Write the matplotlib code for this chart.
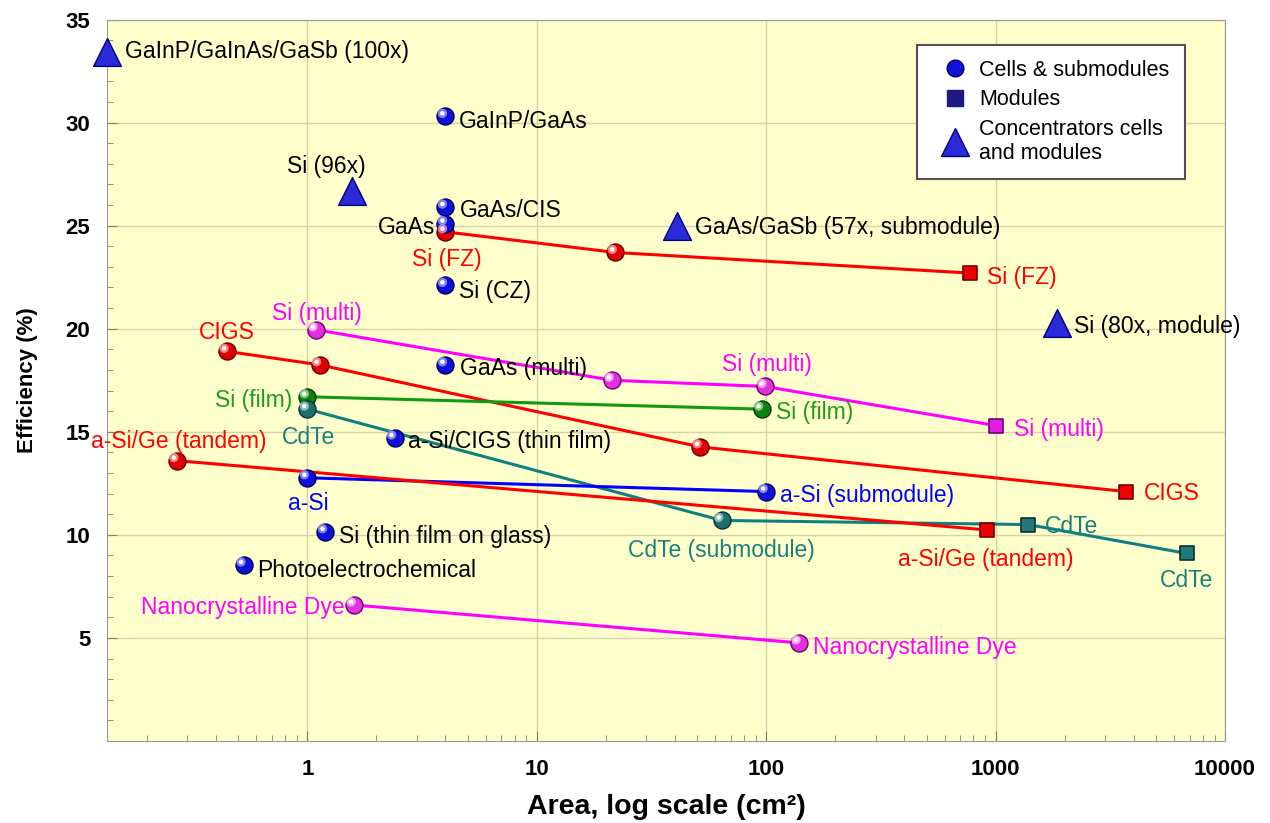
import matplotlib
matplotlib.use("Agg")
import matplotlib.pyplot as plt
from matplotlib.lines import Line2D
from matplotlib.transforms import offset_copy
from matplotlib.ticker import LogLocator, NullFormatter, MultipleLocator

plt.rcParams['font.family'] = ['Liberation Sans', 'DejaVu Sans']

# ---- data (area in cm2, efficiency in %) ----
# connected series: cells -> submodules -> modules
fz_x = [4.0, 22.0, 770.0]
fz_y = [24.7, 23.7, 22.7]
multi_x = [1.09, 21.3, 98.7, 1005.0]
multi_y = [19.95, 17.5, 17.2, 15.3]
cigs_x = [0.447, 1.13, 51.5, 3700.0]
cigs_y = [18.9, 18.25, 14.27, 12.1]
film_x = [1.0, 95.6]
film_y = [16.7, 16.1]
cdte_x = [1.0, 64.0, 1390.0, 6800.0]
cdte_y = [16.1, 10.7, 10.5, 9.1]
asi_x = [1.0, 100.0]
asi_y = [12.77, 12.1]
asige_x = [0.27, 914.0]
asige_y = [13.6, 10.24]
dye_x = [1.6, 139.0]
dye_y = [6.6, 4.76]

# single cells
cell_names = ['GaInP/GaAs', 'GaAs/CIS', 'GaAs', 'Si (CZ)', 'GaAs (multi)',
              'a-Si/CIGS (thin film)', 'Si (thin film on glass)', 'Photoelectrochemical']
cell_x = [4.0, 4.0, 4.0, 4.0, 4.0, 2.4, 1.2, 0.53]
cell_y = [30.3, 25.9, 25.1, 22.1, 18.25, 14.7, 10.15, 8.54]

# concentrators
conc_names = ['GaInP/GaInAs/GaSb (100x)', 'Si (96x)', 'GaAs/GaSb (57x, submodule)', 'Si (80x, module)']
conc_x = [0.134, 1.57, 41.0, 1850.0]
conc_y = [33.4, 26.7, 25.0, 20.3]

x_ticks = [1, 10, 100, 1000, 10000]
y_ticks = [5, 10, 15, 20, 25, 30, 35]

RED = '#ff0000'
MAG = '#ff00ff'
GRN = '#1f9a1f'
TEAL = '#1a7f7f'
BLUE = '#0000ff'

fig = plt.figure(figsize=(12.7, 8.23), dpi=100)
ax = fig.add_axes([0.0843, 0.0996, 0.8803, 0.8767])
ax.set_facecolor('#ffffcc')
ax.set_xscale('log')
ax.set_xlim(0.134, 10000)
ax.set_ylim(0, 35)


def sphere(x, y, color, dark, light, size=150):
    ax.scatter(x, y, s=size, color=color, edgecolors=dark, linewidths=1, zorder=5)
    tr = offset_copy(ax.transData, fig=fig, x=-2.2, y=2.2, units='points')
    ax.scatter(x, y, s=size * 0.3, color=light, edgecolors='none', transform=tr, zorder=6, alpha=0.8)
    ax.scatter(x, y, s=size * 0.07, color='white', edgecolors='none', transform=tr, zorder=7)


def square(x, y, color, dark):
    ax.scatter(x, y, s=110, marker='s', color=color, edgecolors=dark, linewidths=1.2, zorder=5)


def label(x, y, text, color, dx, dy, ha='left'):
    ax.annotate(text, (x, y), xytext=(dx, dy), textcoords='offset pixels',
                ha=ha, va='center', color=color, fontsize=16.5, zorder=8)


# lines
ax.plot(fz_x, fz_y, color=RED, lw=2.2, zorder=3)
ax.plot(multi_x, multi_y, color=MAG, lw=2.2, zorder=3)
ax.plot(cigs_x, cigs_y, color=RED, lw=2.2, zorder=3)
ax.plot(film_x, film_y, color='#119911', lw=2.2, zorder=3)
ax.plot(cdte_x, cdte_y, color='#0f8080', lw=2.2, zorder=3)
ax.plot(asi_x, asi_y, color=BLUE, lw=2.2, zorder=3)
ax.plot(asige_x, asige_y, color=RED, lw=2.2, zorder=3)
ax.plot(dye_x, dye_y, color=MAG, lw=2.2, zorder=3)

# markers
red_s = ('#e00000', '#600000', '#ffa0a0')
mag_s = ('#e030e0', '#700070', '#ffc0ff')
grn_s = ('#108010', '#004000', '#a0e0a0')
teal_s = ('#1f6f6f', '#0a3030', '#a0d0d0')
blue_s = ('#1010d8', '#000060', '#a0a0ff')

sphere(fz_x[:2], fz_y[:2], *red_s)
square(fz_x[2], fz_y[2], '#ee0000', '#700000')
sphere(multi_x[:3], multi_y[:3], *mag_s)
square(multi_x[3], multi_y[3], '#e020e0', '#700070')
sphere(cigs_x[:3], cigs_y[:3], *red_s)
square(cigs_x[3], cigs_y[3], '#ee0000', '#700000')
sphere(film_x, film_y, *grn_s)
sphere(cdte_x[:2], cdte_y[:2], *teal_s)
square(cdte_x[2:], cdte_y[2:], '#207878', '#0a3030')
sphere(asi_x, asi_y, *blue_s)
sphere(asige_x[0], asige_y[0], *red_s)
square(asige_x[1], asige_y[1], '#ee0000', '#700000')
sphere(dye_x, dye_y, *mag_s)
sphere(cell_x, cell_y, *blue_s)
ax.scatter(conc_x, conc_y, s=400, marker='^', color='#2a2ad8', edgecolors='#000080',
           linewidths=1, zorder=5, clip_on=False)

# labels
cell_off = [(13, -5, 'left'), (14, -3, 'left'), (-10, -4, 'right'), (14, -6, 'left'),
            (15, -4, 'left'), (13, -4, 'left'), (14, -5, 'left'), (13, -6, 'left')]
for n, x, y, (dx, dy, ha) in zip(cell_names, cell_x, cell_y, cell_off):
    label(x, y, n, 'black', dx, dy, ha)
conc_off = [(18, 1, 'left'), (-26, 24, 'center'), (18, -2, 'left'), (17, -4, 'left')]
for n, x, y, (dx, dy, ha) in zip(conc_names, conc_x, conc_y, conc_off):
    label(x, y, n, 'black', dx, dy, ha)

label(fz_x[0], fz_y[0], 'Si (FZ)', RED, 1, -28, 'center')
label(fz_x[2], fz_y[2], 'Si (FZ)', RED, 17, -4)
label(multi_x[0], multi_y[0], 'Si (multi)', MAG, 1, 16, 'center')
label(multi_x[2], multi_y[2], 'Si (multi)', MAG, 2, 22, 'center')
label(multi_x[3], multi_y[3], 'Si (multi)', MAG, 18, -4)
label(cigs_x[0], cigs_y[0], 'CIGS', RED, 0, 19, 'center')
label(cigs_x[3], cigs_y[3], 'CIGS', RED, 18, -2)
label(film_x[0], film_y[0], 'Si (film)', GRN, -15, -4, 'right')
label(film_x[1], film_y[1], 'Si (film)', GRN, 14, -3)
label(cdte_x[0], cdte_y[0], 'CdTe', TEAL, 1, -28, 'center')
label(cdte_x[1], cdte_y[1], 'CdTe (submodule)', TEAL, 0, -30, 'center')
label(cdte_x[2], cdte_y[2], 'CdTe', TEAL, 16, -2)
label(cdte_x[3], cdte_y[3], 'CdTe', TEAL, 0, -27, 'center')
label(asi_x[0], asi_y[0], 'a-Si', BLUE, 1, -26, 'center')
label(asi_x[1], asi_y[1], 'a-Si (submodule)', BLUE, 14, -4)
label(asige_x[0], asige_y[0], 'a-Si/Ge (tandem)', RED, 2, 19, 'center')
label(asige_x[1], asige_y[1], 'a-Si/Ge (tandem)', RED, -1, -30, 'center')
label(dye_x[0], dye_y[0], 'Nanocrystalline Dye', MAG, -10, -3, 'right')
label(dye_x[1], dye_y[1], 'Nanocrystalline Dye', MAG, 14, -5)

# axes styling
ax.set_xticks(x_ticks)
ax.set_xticklabels([str(t) for t in x_ticks])
ax.xaxis.set_minor_locator(LogLocator(base=10, subs=range(2, 10), numticks=20))
ax.xaxis.set_minor_formatter(NullFormatter())
ax.set_yticks(y_ticks)
ax.yaxis.set_minor_locator(MultipleLocator(1))
ax.grid(True, which='major', color='#d4d4a8', lw=1)
ax.set_axisbelow(True)
ax.tick_params(which='both', direction='in', color='#808080', top=False, right=False)
ax.tick_params(which='major', length=7)
ax.tick_params(which='minor', length=4)
ax.tick_params(axis='x', pad=13)
ax.tick_params(axis='y', pad=12)
for t in ax.get_xticklabels() + ax.get_yticklabels():
    t.set_fontsize(16)
    t.set_fontweight('bold')
for s in ax.spines.values():
    s.set_color('#9a9a9a')

ax.set_xlabel('Area, log scale (cm²)', fontsize=20.5, fontweight='bold', labelpad=10)
ax.set_ylabel('Efficiency (%)', fontsize=16, fontweight='bold', labelpad=20)

handles = [
    Line2D([], [], ls='None', marker='o', ms=12, color='#1010d8', mec='#000060'),
    Line2D([], [], ls='None', marker='s', ms=11, color='#1a1a80', mec='#1a1a80'),
    Line2D([], [], ls='None', marker='^', ms=20, color='#2a2ad8', mec='#000080'),
]
leg = ax.legend(handles, ['Cells & submodules', 'Modules', 'Concentrators cells\nand modules'],
                loc='upper right', bbox_to_anchor=(0.964, 0.965), fontsize=15.5,
                frameon=True, fancybox=False, handlelength=2.1, handletextpad=0.1,
                borderpad=0.7, labelspacing=0.4, borderaxespad=0)
leg.get_frame().set_edgecolor('#505050')
leg.get_frame().set_linewidth(1.5)
leg.get_frame().set_facecolor('white')
leg.get_frame().set_alpha(1)

fig.savefig('out.png', dpi=100)
